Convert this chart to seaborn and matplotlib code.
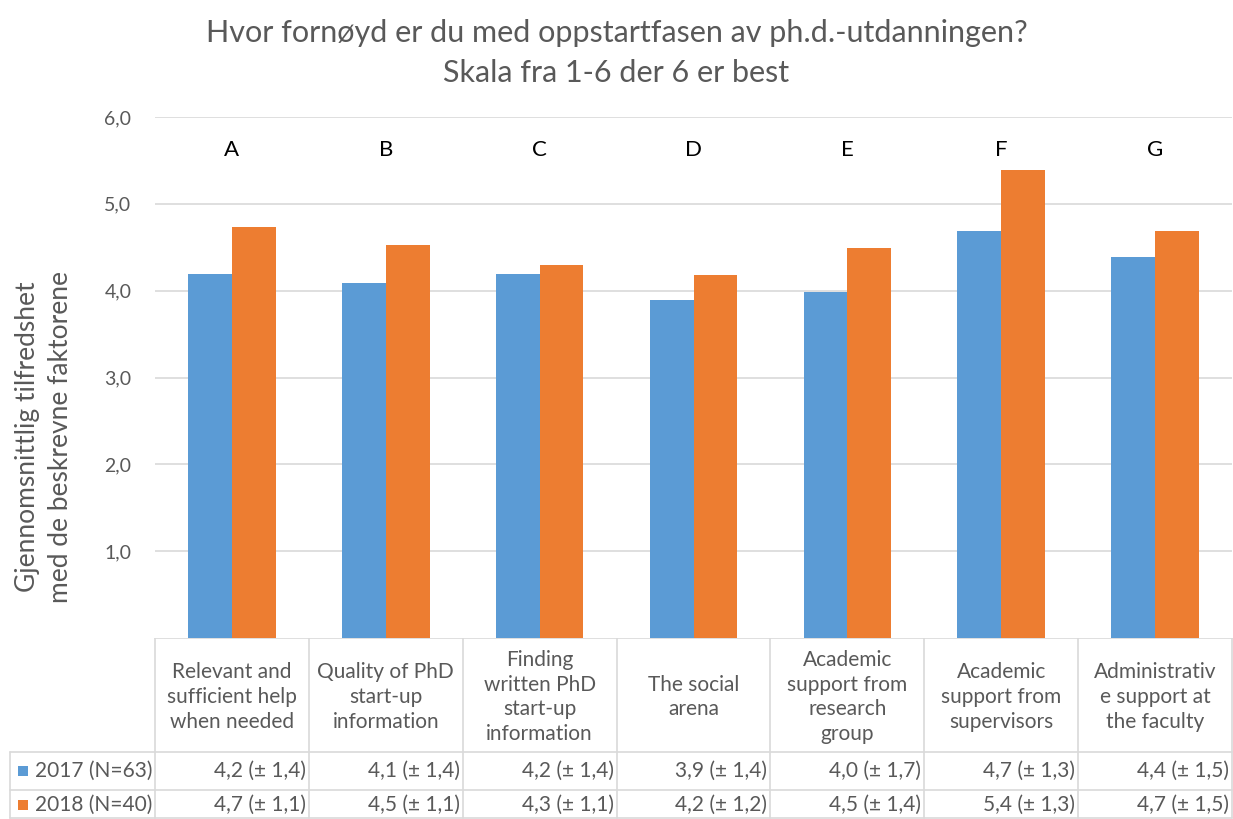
import numpy as np
import pandas as pd
import matplotlib
matplotlib.use("Agg")
import matplotlib.pyplot as plt
import seaborn as sns

# Data
letters = ["A", "B", "C", "D", "E", "F", "G"]
factors = [
    "Relevant and\nsufficient help\nwhen needed",
    "Quality of PhD\nstart-up\ninformation",
    "Finding\nwritten PhD\nstart-up\ninformation",
    "The social\narena",
    "Academic\nsupport from\nresearch\ngroup",
    "Academic\nsupport from\nsupervisors",
    "Administrativ\ne support at\nthe faculty",
]
series = ["2017 (N=63)", "2018 (N=40)"]
mean_2017 = [4.19, 4.09, 4.19, 3.89, 3.99, 4.69, 4.39]
mean_2018 = [4.73, 4.53, 4.30, 4.18, 4.49, 5.39, 4.69]
label_2017 = ["4,2 (± 1,4)", "4,1 (± 1,4)", "4,2 (± 1,4)", "3,9 (± 1,4)",
              "4,0 (± 1,7)", "4,7 (± 1,3)", "4,4 (± 1,5)"]
label_2018 = ["4,7 (± 1,1)", "4,5 (± 1,1)", "4,3 (± 1,1)", "4,2 (± 1,2)",
              "4,5 (± 1,4)", "5,4 (± 1,3)", "4,7 (± 1,5)"]
y_ticks = [1, 2, 3, 4, 5, 6]

BLUE = "#5B9BD5"
ORANGE = "#ED7D31"
GREY = "#595959"
LINE = "#D9D9D9"

sns.set_style("white")
plt.rcParams["font.family"] = ["Lato", "DejaVu Sans"]

W, H = 1233, 819
fig = plt.figure(figsize=(W / 100, H / 100), dpi=100)

# main plot area (pixel layout)
px_left, px_right, px_top, px_bottom = 155, 1232, 117, 638
ax = fig.add_axes([px_left / W, (H - px_bottom) / H,
                   (px_right - px_left) / W, (px_bottom - px_top) / H])

df = pd.DataFrame({
    "letter": letters * 2,
    "year": [series[0]] * 7 + [series[1]] * 7,
    "value": mean_2017 + mean_2018,
})
sns.barplot(data=df, x="letter", y="value", hue="year", order=letters,
            palette=[BLUE, ORANGE], width=0.57, saturation=1,
            linewidth=0, edgecolor="none", legend=False, ax=ax)

ax.set_xlim(-0.5, 6.5)
ax.set_ylim(0, 6)
ax.set_yticks(y_ticks)
ax.set_yticklabels([f"{v:.1f}".replace(".", ",") for v in y_ticks],
                   color=GREY, fontsize=14)
ax.tick_params(axis="y", length=0, pad=17)
ax.set_xticks([])
ax.set_xlabel("")
ax.set_ylabel("")
ax.yaxis.grid(True, color=LINE, linewidth=1.2)
ax.set_axisbelow(True)
for s in ax.spines.values():
    s.set_visible(False)

for i, let in enumerate(letters):
    ax.text(i, 5.62, let, ha="center", va="center", fontsize=16, color="black")

fig.text(0.5, 1 - 33 / H, "Hvor fornøyd er du med oppstartfasen av ph.d.-utdanningen?",
         ha="center", va="center", fontsize=22, color=GREY)
fig.text(0.5, 1 - 73 / H, "Skala fra 1-6 der 6 er best",
         ha="center", va="center", fontsize=22, color=GREY)
fig.text(44 / W, 1 - 437 / H,
         "Gjennomsnittlig tilfredshet\nmed de beskrevne faktorene",
         ha="center", va="center", rotation=90, fontsize=19, color=GREY,
         linespacing=1.4)

# data table under the plot, x aligned with the category axis
upp = 7 / (px_right - px_left)  # data units per pixel
tax = fig.add_axes([0, 0, 1, (H - px_bottom) / H])
tax.set_xlim(-0.5 - px_left * upp, 6.5 + (W - px_right) * upp)
tax.set_ylim(H - px_bottom, 0)
tax.axis("off")

x_leg = -0.5 - (px_left - 10) * upp
r1, r2, r3 = 114, 152, 180
tax.plot([-0.5, 6.5], [0, 0], color=LINE, lw=1.2)
tax.plot([x_leg, 6.5], [r1, r1], color=LINE, lw=1.2)
tax.plot([x_leg, 6.5], [r2, r2], color=LINE, lw=1.2)
tax.plot([x_leg, 6.5], [r3, r3], color=LINE, lw=1.2)
tax.plot([x_leg, x_leg], [r1, r3], color=LINE, lw=1.2)
for i in range(8):
    tax.plot([i - 0.5, i - 0.5], [0, r3], color=LINE, lw=1.2)

for i, name in enumerate(factors):
    tax.text(i, 59, name, ha="center", va="center", fontsize=15,
             color=GREY, linespacing=1.3)
    tax.text(i + 0.5 - 3 * upp, (r1 + r2) / 2, label_2017[i], ha="right",
             va="center", fontsize=15, color=GREY)
    tax.text(i + 0.5 - 3 * upp, (r2 + r3) / 2 + 1, label_2018[i], ha="right",
             va="center", fontsize=15, color=GREY)

for row_y, col, name in [((r1 + r2) / 2, BLUE, series[0]),
                         ((r2 + r3) / 2 + 1, ORANGE, series[1])]:
    tax.add_patch(plt.Rectangle((x_leg + 8 * upp, row_y - 5), 10 * upp, 10,
                                color=col, lw=0))
    tax.text(x_leg + 25 * upp, row_y, name, ha="left", va="center",
             fontsize=15, color=GREY)

fig.savefig("out.png", dpi=100, facecolor="white")
